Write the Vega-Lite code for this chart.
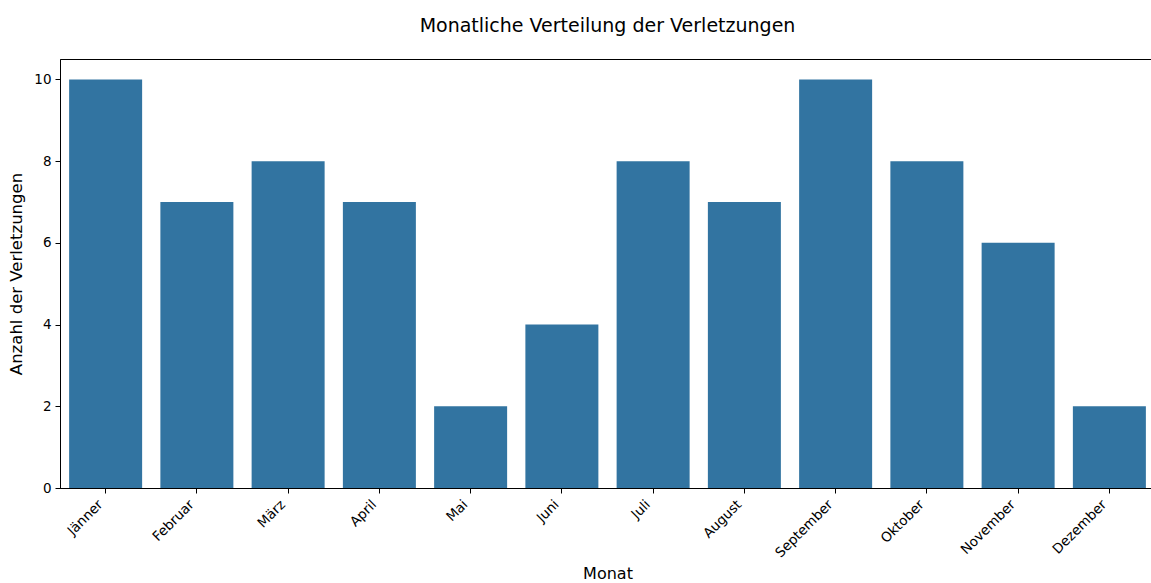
{
  "$schema": "https://vega.github.io/schema/vega-lite/v6.json",
  "autosize": {"type": "none"},
  "padding": {"left": 60, "top": 59, "right": 0, "bottom": 95},
  "width": 1095,
  "height": 429,
  "background": "white",
  "title": {
    "text": "Monatliche Verteilung der Verletzungen",
    "font": "DejaVu Sans",
    "fontSize": 19,
    "fontWeight": "normal",
    "color": "#000000",
    "anchor": "middle",
    "offset": 23
  },
  "data": {
    "values": [
      {"Monat": "Jänner", "Anzahl": 10},
      {"Monat": "Februar", "Anzahl": 7},
      {"Monat": "März", "Anzahl": 8},
      {"Monat": "April", "Anzahl": 7},
      {"Monat": "Mai", "Anzahl": 2},
      {"Monat": "Juni", "Anzahl": 4},
      {"Monat": "Juli", "Anzahl": 8},
      {"Monat": "August", "Anzahl": 7},
      {"Monat": "September", "Anzahl": 10},
      {"Monat": "Oktober", "Anzahl": 8},
      {"Monat": "November", "Anzahl": 6},
      {"Monat": "Dezember", "Anzahl": 2}
    ]
  },
  "mark": {"type": "bar", "color": "#3274a1"},
  "encoding": {
    "x": {
      "field": "Monat",
      "type": "nominal",
      "sort": null,
      "scale": {"paddingInner": 0.2, "paddingOuter": 0.1},
      "axis": {
        "title": "Monat",
        "titleFont": "DejaVu Sans",
        "titleFontSize": 16,
        "titleFontWeight": "normal",
        "titleColor": "#000000",
        "titlePadding": 6,
        "labelAngle": -45,
        "labelAlign": "right",
        "labelBaseline": "bottom",
        "labelFont": "DejaVu Sans",
        "labelFontSize": 13.5,
        "labelColor": "#000000",
        "labelPadding": 14,
        "domainColor": "#000000",
        "tickColor": "#000000",
        "tickSize": 5
      }
    },
    "y": {
      "field": "Anzahl",
      "type": "quantitative",
      "scale": {"domain": [0, 10.5], "nice": false},
      "axis": {
        "title": "Anzahl der Verletzungen",
        "titleFont": "DejaVu Sans",
        "titleFontSize": 16.5,
        "titleFontWeight": "normal",
        "titleColor": "#000000",
        "titlePadding": 9,
        "values": [0, 2, 4, 6, 8, 10],
        "grid": false,
        "labelFont": "DejaVu Sans",
        "labelFontSize": 13.5,
        "labelColor": "#000000",
        "labelPadding": 4,
        "domainColor": "#000000",
        "tickColor": "#000000",
        "tickSize": 5
      }
    }
  },
  "config": {
    "view": {"stroke": "#000000", "strokeWidth": 1},
    "axis": {"domainWidth": 1, "tickWidth": 1}
  }
}
